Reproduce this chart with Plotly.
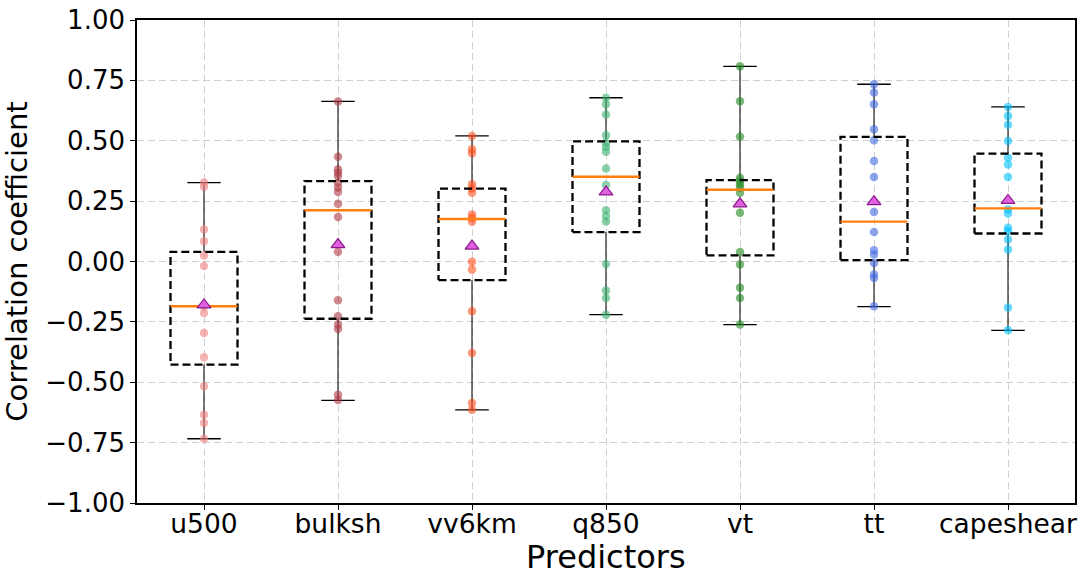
import plotly.graph_objects as go

categories = ["u500", "bulksh", "vv6km", "q850", "vt", "tt", "capeshear"]

points = {
    "u500": [0.327, 0.31, 0.133, 0.084, 0.025, -0.019, -0.185, -0.213, -0.296,
             -0.396, -0.517, -0.635, -0.669, -0.734],
    "bulksh": [0.663, 0.434, 0.382, 0.368, 0.354, 0.326, 0.306, 0.288, 0.239,
               0.184, 0.040, -0.160, -0.227, -0.261, -0.279, -0.552, -0.573],
    "vv6km": [0.52, 0.465, 0.448, 0.320, 0.302, 0.285, 0.195, 0.181, 0.165,
              -0.001, -0.033, -0.206, -0.379, -0.586, -0.614],
    "q850": [0.678, 0.651, 0.609, 0.523, 0.492, 0.474, 0.454, 0.385, 0.317,
             0.212, 0.188, 0.166, -0.010, -0.120, -0.151, -0.220],
    "vt": [0.808, 0.664, 0.517, 0.347, 0.333, 0.320, 0.306, 0.285, 0.202,
           0.039, -0.012, -0.109, -0.151, -0.261],
    "tt": [0.734, 0.700, 0.651, 0.548, 0.502, 0.416, 0.350, 0.205, 0.122,
           0.047, 0.029, -0.006, -0.054, -0.068, -0.185],
    "capeshear": [0.640, 0.603, 0.566, 0.499, 0.430, 0.402, 0.350, 0.216, 0.199,
                  0.140, 0.126, 0.091, 0.050, -0.190, -0.285],
}

q1 = [-0.427, -0.237, -0.077, 0.122, 0.025, 0.006, 0.116]
median = [-0.185, 0.212, 0.176, 0.351, 0.297, 0.165, 0.220]
q3 = [0.040, 0.333, 0.302, 0.497, 0.337, 0.516, 0.447]
whisker_low = [-0.734, -0.575, -0.614, -0.220, -0.261, -0.187, -0.285]
whisker_high = [0.327, 0.663, 0.520, 0.678, 0.808, 0.734, 0.640]
means = [-0.180, 0.070, 0.064, 0.288, 0.239, 0.248, 0.253]

point_colors = [
    "rgba(240,128,128,0.6)",   # lightcoral
    "rgba(175,60,70,0.6)",     # brown-red
    "rgba(255,80,30,0.6)",     # orangered
    "rgba(60,179,113,0.6)",    # mediumseagreen
    "rgba(34,139,34,0.6)",     # forestgreen
    "rgba(65,105,225,0.6)",    # royalblue
    "rgba(0,191,255,0.6)",     # deepskyblue
]

pos = list(range(1, len(categories) + 1))
BOX_HALF = 0.25
CAP_HALF = 0.125
FONT = "DejaVu Sans"

fig = go.Figure()

# whiskers
wx, wy = [], []
for p, lo, hi, a, b in zip(pos, whisker_low, whisker_high, q1, q3):
    wx += [p, p, None, p, p, None]
    wy += [lo, a, None, b, hi, None]
fig.add_trace(go.Scatter(x=wx, y=wy, mode="lines",
                         line=dict(color="rgba(0,0,0,0.8)", width=1.3),
                         hoverinfo="skip", showlegend=False))
# caps
cx, cy = [], []
for p, lo, hi in zip(pos, whisker_low, whisker_high):
    cx += [p - CAP_HALF, p + CAP_HALF, None, p - CAP_HALF, p + CAP_HALF, None]
    cy += [lo, lo, None, hi, hi, None]
fig.add_trace(go.Scatter(x=cx, y=cy, mode="lines",
                         line=dict(color="black", width=1.3),
                         hoverinfo="skip", showlegend=False))

# points
for p, cat, col in zip(pos, categories, point_colors):
    vals = points[cat]
    fig.add_trace(go.Scatter(x=[p] * len(vals), y=vals, mode="markers",
                             marker=dict(color=col, size=8.5, line=dict(width=0)),
                             name=cat, showlegend=False))

# boxes (dashed)
bx, by = [], []
for p, a, b in zip(pos, q1, q3):
    bx += [p - BOX_HALF, p + BOX_HALF, p + BOX_HALF, p - BOX_HALF, p - BOX_HALF, None]
    by += [a, a, b, b, a, None]
fig.add_trace(go.Scatter(x=bx, y=by, mode="lines",
                         line=dict(color="black", width=2.3, dash="8px,4px"),
                         hoverinfo="skip", showlegend=False))

# medians
mx, my = [], []
for p, m in zip(pos, median):
    mx += [p - BOX_HALF, p + BOX_HALF, None]
    my += [m, m, None]
fig.add_trace(go.Scatter(x=mx, y=my, mode="lines",
                         line=dict(color="#ff7f0e", width=2.4),
                         hoverinfo="skip", showlegend=False))

# means
fig.add_trace(go.Scatter(x=pos, y=means, mode="markers",
                         marker=dict(symbol="triangle-up", size=12, color="#e060e0",
                                     line=dict(color="#8b1a8b", width=1.2)),
                         showlegend=False))

grid = dict(showgrid=True, gridcolor="#d0d0d0", griddash="7px,4px", gridwidth=1.4)

fig.update_layout(
    width=1081, height=575,
    margin=dict(l=137, r=4, t=20, b=72),
    paper_bgcolor="white", plot_bgcolor="white",
    font=dict(family=FONT, color="black", size=26),
    xaxis=dict(range=[0.5, 7.5], tickmode="array", tickvals=pos, ticktext=categories,
               showline=True, linecolor="black", linewidth=1.6, mirror=True,
               ticks="outside", ticklen=5, tickwidth=1.2, tickcolor="black",
               tickfont=dict(size=26.5, family=FONT), zeroline=False,
               ticklabelstandoff=-9,
               **grid),
    yaxis=dict(range=[-1.0, 1.0], tickmode="linear", tick0=-1.0, dtick=0.25,
               tickformat=".2f",
               showline=True, linecolor="black", linewidth=1.6, mirror=True,
               ticks="outside", ticklen=5, tickwidth=1.2, tickcolor="black",
               tickfont=dict(size=26, family=FONT), zeroline=False,
               title=dict(text="Correlation coefficient", font=dict(size=29, family=FONT),
                          standoff=10),
               **grid),
    annotations=[dict(text="Predictors", xref="paper", yref="paper", x=0.5, y=0,
                      xanchor="center", yanchor="bottom", yshift=-75, showarrow=False,
                      font=dict(size=32, family=FONT, color="black"))],
)

fig.write_html("out.html")
